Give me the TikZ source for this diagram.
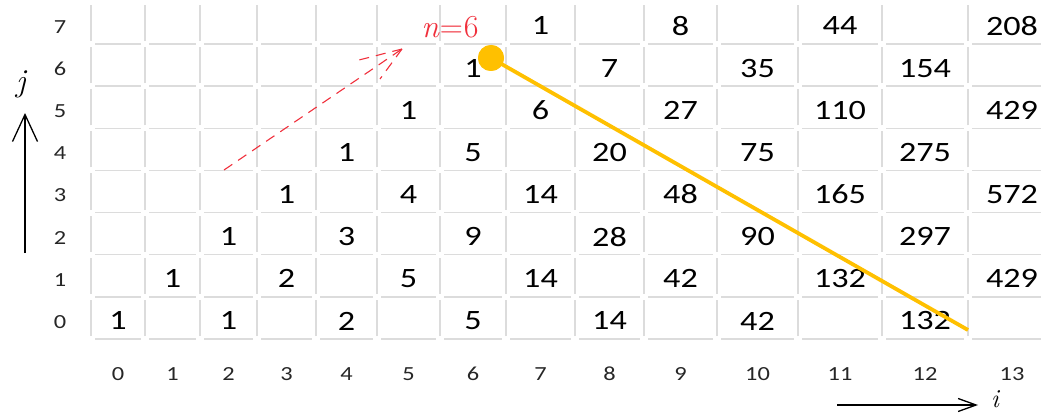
\documentclass[tikz,border=0pt]{standalone}
\usepackage{fontspec}
\newfontfamily\cellfont[FakeStretch=1.22]{Carlito}
\usetikzlibrary{arrows.meta}
\definecolor{gridgray}{HTML}{DCDCDC}
\definecolor{gold}{HTML}{FFC000}
\definecolor{redd}{HTML}{F0303C}
\begin{document}
\begin{tikzpicture}[x=1pt,y=1pt,
  val/.style={font=\cellfont\fontsize{28}{30}\selectfont, text=black, inner sep=0pt},
  lab/.style={font=\cellfont\fontsize{20}{22}\selectfont, text=black!85, inner sep=0pt},
  gline/.style={draw=gridgray, line width=1.4pt},
  reddash/.style={draw=redd, line width=1.1pt, dash pattern=on 10pt off 7pt},
  axisarrow/.style={draw=black, line width=1.3pt},
  axislab/.style={font=\fontsize{32}{34}\selectfont\itshape, anchor=base, inner sep=0pt}]
\useasboundingbox (0,0) rectangle (1041,416);
\def\xs{{91,145,200,257,316,377,440,506,575,644,717,798,882,968,1056}}
% grid
\foreach \c in {0,...,13}{
  \pgfmathsetmacro\xl{\xs[\c]}
  \pgfmathsetmacro\xr{\xs[\c+1]}
  \foreach \k in {0,...,7}{
    \pgfmathsetmacro\yy{77+42.14*\k}
    \draw[gline] (\xl+4,\yy) -- (\xr-4,\yy);
  }
  \foreach \r in {0,...,7}{
    \pgfmathsetmacro\ya{77+42.14*\r+3}
    \pgfmathsetmacro\yb{77+42.14*(\r+1)-3}
    \draw[gline] (\xl,\ya) -- (\xl,\yb);
  }
}
% row labels
\foreach \r in {0,...,7}{
  \node[lab] (rl\r) at (60,{77+42.14*(\r+0.5)-4}) {\r};
}
% column labels
\foreach \c in {0,...,13}{
  \pgfmathsetmacro\xa{\xs[\c]}
  \pgfmathsetmacro\xb{\xs[\c+1]}
  \pgfmathsetmacro\cx{(\xa+\xb)/2}
  \node[lab] (cl\c) at (\cx,42) {\c};
}
% values
\foreach \c/\r/\v in {7/7/1,9/7/8,11/7/44,13/7/208,
  6/6/1,8/6/7,10/6/35,12/6/154,
  5/5/1,7/5/6,9/5/27,11/5/110,13/5/429,
  4/4/1,6/4/5,8/4/20,10/4/75,12/4/275,
  3/3/1,5/3/4,7/3/14,9/3/48,11/3/165,13/3/572,
  2/2/1,4/2/3,6/2/9,8/2/28,10/2/90,12/2/297,
  1/1/1,3/1/2,5/1/5,7/1/14,9/1/42,11/1/132,13/1/429,
  0/0/1,2/0/1,4/0/2,6/0/5,8/0/14,10/0/42,12/0/132}{
  \pgfmathsetmacro\xa{\xs[\c]}
  \pgfmathsetmacro\xb{\xs[\c+1]}
  \pgfmathsetmacro\cx{(\xa+\xb)/2}
  \node[val] (v\c-\r) at (\cx,{77+42.14*(\r+0.5)-3}) {\v};
}
% yellow line and dot
\node[circle, fill=gold, minimum size=26pt, inner sep=0pt] (dot) at (491,358) {};
\coordinate (yend) at (968,86);
\draw[gold, line width=3.8pt] (dot.center) -- (yend);
\node[circle, fill=gold, minimum size=26pt, inner sep=0pt] at (dot.center) {};
% red dashed arrow
\coordinate (rs) at (224,246);
\coordinate (re) at (402,367);
\draw[reddash] (rs) -- (re);
\draw[reddash] (re) -- ++(-43,-11);
\draw[reddash] (re) -- ++(-22,-30);
\node[text=redd, font=\fontsize{32}{34}\selectfont, anchor=base, inner sep=0pt] (nlab) at (450,378) {{\itshape n}\kern1pt=\kern1pt6};
% axes
\coordinate (js) at (25,163);
\coordinate (je) at (25,303);
\draw[axisarrow, -{Straight Barb[length=27pt,width=25pt,line width=1.3pt]}] (js) -- (je);
\node[axislab] (jlab) at (21,324) {j};
\coordinate (is) at (837,11);
\coordinate (ie) at (978,11);
\draw[axisarrow, -{Straight Barb[length=18pt,width=13pt,line width=1.3pt]}] (is) -- (ie);
\node[axislab, font=\fontsize{26}{28}\selectfont\itshape] (ilab) at (995,9) {i};
\end{tikzpicture}
\end{document}
